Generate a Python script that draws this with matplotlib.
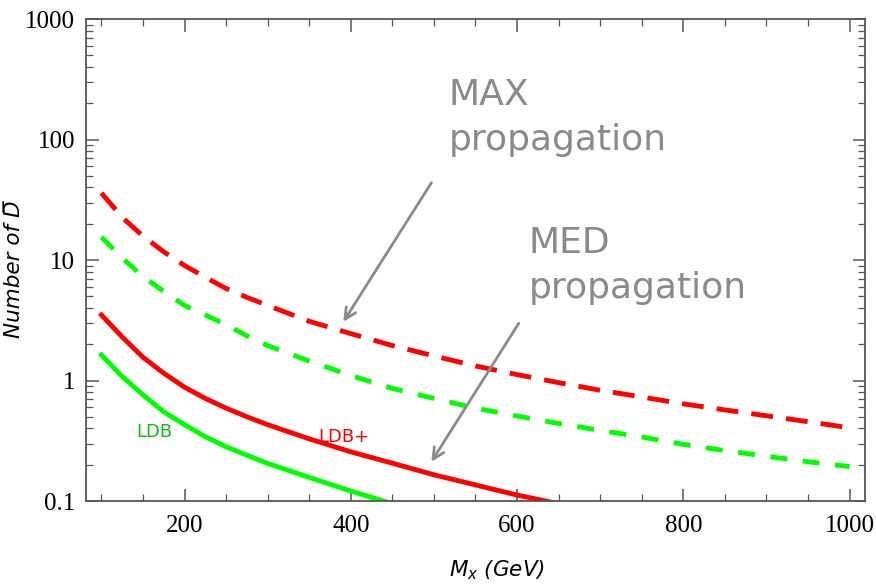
import matplotlib
matplotlib.use('Agg')
import matplotlib.pyplot as plt
from matplotlib.ticker import FixedLocator, MultipleLocator, LogLocator, NullFormatter

plt.rcParams['mathtext.fontset'] = 'dejavusans'

# values
mass = [100, 125, 150, 175, 200, 225, 250, 275, 300, 350, 400, 450, 500, 550,
        600, 650, 700, 750, 800, 850, 900, 950, 1000]
max_ldbp = [36, 22.6, 15.8, 11.7, 9.0, 7.2, 5.8, 4.9, 4.2, 3.1, 2.45, 1.95,
            1.6, 1.32, 1.12, 0.96, 0.83, 0.73, 0.64, 0.57, 0.51, 0.455, 0.405]
max_ldb = [15.5, 10.4, 7.3, 5.5, 4.2, 3.5, 2.9, 2.35, 1.95, 1.45, 1.1, 0.86,
           0.71, 0.59, 0.507, 0.44, 0.385, 0.34, 0.295, 0.262, 0.235, 0.212, 0.193]

mass_med = [100, 125, 150, 175, 200, 225, 250, 275, 300, 350, 400, 450, 500,
            550, 600, 650, 700]
med_ldbp = [3.5, 2.3, 1.56, 1.15, 0.88, 0.71, 0.59, 0.5, 0.43, 0.328, 0.256,
            0.206, 0.165, 0.136, 0.112, 0.095, 0.082]
med_ldb = [1.63, 1.08, 0.76, 0.55, 0.43, 0.342, 0.282, 0.24, 0.205, 0.157,
           0.121, 0.095, 0.077, 0.064, 0.054, 0.047, 0.041]

x_ticks = [200, 400, 600, 800, 1000]
y_ticks = [0.1, 1, 10, 100, 1000]
y_labels = ['0.1', '1', '10', '100', '1000']

red = '#ff0000'
green = '#00ff00'
grey = '#8a8a8a'
frame = '#555555'

fig = plt.figure(figsize=(8.76, 5.87), dpi=100)
ax = fig.add_axes([0.0982, 0.1465, 0.8892, 0.8211])

lw = 3.5
ax.plot(mass, max_ldbp, color=red, lw=lw, dashes=(4.5, 2.7), dash_capstyle='butt')
ax.plot(mass, max_ldb, color=green, lw=lw, dashes=(3.5, 3.2), dash_capstyle='butt')
ax.plot(mass_med, med_ldbp, color=red, lw=lw)
ax.plot(mass_med, med_ldb, color=green, lw=lw)

ax.set_yscale('log')
ax.set_xlim(81.5, 1018.5)
ax.set_ylim(0.1, 1000)

ax.xaxis.set_major_locator(FixedLocator(x_ticks))
ax.xaxis.set_minor_locator(MultipleLocator(50))
ax.set_yticks(y_ticks)
ax.set_yticklabels(y_labels)
ax.yaxis.set_minor_locator(LogLocator(base=10, subs=range(2, 10)))
ax.yaxis.set_minor_formatter(NullFormatter())

for s in ax.spines.values():
    s.set_color(frame)
    s.set_linewidth(1.3)
ax.tick_params(which='both', direction='in', top=True, right=True, color=frame)
ax.tick_params(which='major', length=9, width=1.1, labelsize=18, pad=10)
ax.tick_params(which='minor', length=5, width=0.9)
for lab in ax.get_xticklabels() + ax.get_yticklabels():
    lab.set_family('Liberation Serif')
ax.tick_params(axis='y', pad=8)

ax.set_xlabel(r'$M_x$ (GeV)', fontsize=15.5, fontstyle='italic')
ax.xaxis.label.set_va('baseline')
ax.xaxis.set_label_coords(0.528, -0.156)
# D with a combining overline
ax.set_ylabel('Number of D\u0305', fontsize=15.5, fontstyle='italic')
ax.yaxis.label.set_va('baseline')
ax.yaxis.set_label_coords(-0.085, 0.481)

# annotations
ax.text(518, 193, 'MAX', color=grey, fontsize=26, va='baseline')
ax.text(518, 81.8, 'propagation', color=grey, fontsize=26, va='baseline')
ax.text(614, 11.4, 'MED', color=grey, fontsize=26, va='baseline')
ax.text(614, 4.84, 'propagation', color=grey, fontsize=26, va='baseline')

arrow = dict(arrowstyle='->,head_length=0.8,head_width=0.4', color=grey, lw=2,
             shrinkA=0, shrinkB=0)
ax.annotate('', xy=(391, 3.07), xytext=(497, 43.8), arrowprops=arrow)
ax.annotate('', xy=(497, 0.212), xytext=(602, 2.98), arrowprops=arrow)

ax.text(142, 0.342, 'LDB', color='#14b814', fontsize=13, va='baseline')
ax.text(361, 0.31, 'LDB+', color=red, fontsize=13, va='baseline')

fig.savefig('out.png', dpi=100)
